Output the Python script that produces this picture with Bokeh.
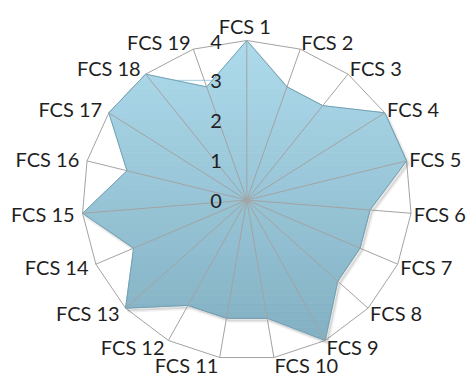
import numpy as np
from bokeh.plotting import figure
from bokeh.models import ColumnDataSource, Range1d
from bokeh.embed import file_html
from bokeh.resources import INLINE
from bokeh.core.properties import value

# ---- data ----
categories = ["FCS 1", "FCS 2", "FCS 3", "FCS 4", "FCS 5", "FCS 6", "FCS 7", "FCS 8",
              "FCS 9", "FCS 10", "FCS 11", "FCS 12", "FCS 13", "FCS 14", "FCS 15",
              "FCS 16", "FCS 17", "FCS 18", "FCS 19"]
scores = [4, 3, 3, 4, 4, 3, 3, 3, 4, 3, 3, 3, 4, 3, 4, 3, 4, 4, 3]
ring_levels = [1, 2, 3, 4]
tick_values = [0, 1, 2, 3, 4]
tick_labels = ["0", "1", "2", "3", "4"]
r_max = 4

# ---- layout ----
W, H = 466, 378
cx_px, cy_px = 246.3, 199.6
rx_px, ry_px = 164.8, 159.6
sx = rx_px / r_max
sy = ry_px / r_max
FONT = "Lato"
FS = "20px"
TXT = "#1f1f1f"
GRID = "#a3a3a3"

n = len(categories)
theta = 2 * np.pi * np.arange(n) / n
sin_t, cos_t = np.sin(theta), np.cos(theta)

p = figure(width=W, height=H, output_backend="svg", toolbar_location=None,
           x_range=Range1d(-cx_px / sx, (W - cx_px) / sx),
           y_range=Range1d(-(H - cy_px) / sy, cy_px / sy),
           x_axis_location=None, y_axis_location=None, min_border=0)
p.grid.visible = False
p.outline_line_color = None
p.background_fill_color = "white"
p.border_fill_color = "white"

# rings (behind)
p.patches([list(lv * sin_t) for lv in ring_levels], [list(lv * cos_t) for lv in ring_levels],
          fill_color=None, line_color=GRID, line_width=1)

# data polygon
r = np.array(scores, dtype=float)
px = r * sin_t
py = r * cos_t

# shadow
p.patch(list(px + 2.5 / sx), list(py - 3 / sy), fill_color="black", fill_alpha=0.10,
        line_color="black", line_alpha=0.06, line_width=3)


def clip(poly, y0, y1):
    def clip_half(pts, keep, inter):
        out = []
        m = len(pts)
        for i in range(m):
            a, b = pts[i], pts[(i + 1) % m]
            ka, kb = keep(a), keep(b)
            if ka:
                out.append(a)
                if not kb:
                    out.append(inter(a, b))
            elif kb:
                out.append(inter(a, b))
        return out

    def mk(yc):
        def inter(a, b):
            t = (yc - a[1]) / (b[1] - a[1])
            return (a[0] + t * (b[0] - a[0]), yc)
        return inter

    pts = clip_half(poly, lambda q: q[1] >= y0, mk(y0))
    if not pts:
        return pts
    return clip_half(pts, lambda q: q[1] <= y1, mk(y1))


top_c = np.array([0xAE, 0xDB, 0xEC])
bot_c = np.array([0x80, 0xAE, 0xC0])
poly = list(zip(px, py))
nb = 40
edges = np.linspace(-r_max, r_max, nb + 1)
bx, by, bc = [], [], []
for i in range(nb):
    c = clip(poly, edges[i], edges[i + 1])
    if len(c) < 3:
        continue
    t = (edges[i] + edges[i + 1]) / 2
    f = (r_max - t) / (2 * r_max)
    col = top_c + (bot_c - top_c) * f
    bx.append([q[0] for q in c])
    by.append([q[1] for q in c])
    bc.append("#%02x%02x%02x" % tuple(int(round(v)) for v in col))
p.patches(bx, by, fill_color=bc, line_color=bc, line_width=0.8)

p.patch(list(px), list(py), fill_color=None, line_color="#74a1b3", line_width=1)

# spokes (over fill)
p.segment(x0=[0] * n, y0=[0] * n, x1=list(r_max * sin_t), y1=list(r_max * cos_t),
          line_color=GRID, line_width=1)

# category labels
aligns, bases, xo, yo = [], [], [], []
for s, c in zip(sin_t, cos_t):
    if s > 0.1:
        aligns.append("left")
    elif s < -0.1:
        aligns.append("right")
    else:
        aligns.append("center")
    if abs(s) <= 0.1 and c > 0:
        bases.append("alphabetic")
        xo.append(-2)
        yo.append(-15)
    else:
        bases.append("middle")
        kx = 8.0 if s < 0 else 2.8
        xo.append(kx * s)
        yo.append(-7.5 * c)
lab = ColumnDataSource(dict(x=list(r_max * sin_t), y=list(r_max * cos_t), text=categories,
                            align=aligns, base=bases, xo=xo, yo=yo))
p.text(x="x", y="y", text="text", source=lab, text_align="align", text_baseline="base",
       x_offset="xo", y_offset="yo", text_font=value(FONT), text_font_size=FS,
       text_color=TXT)

# radial tick labels
tk = ColumnDataSource(dict(x=[0] * len(tick_values), y=tick_values, text=tick_labels))
p.text(x="x", y="y", text="text", source=tk, text_align="right", text_baseline="middle",
       x_offset=-25, y_offset=1, text_font=value(FONT), text_font_size=FS, text_color=TXT)

open("out.html", "w").write(file_html(p, INLINE))
